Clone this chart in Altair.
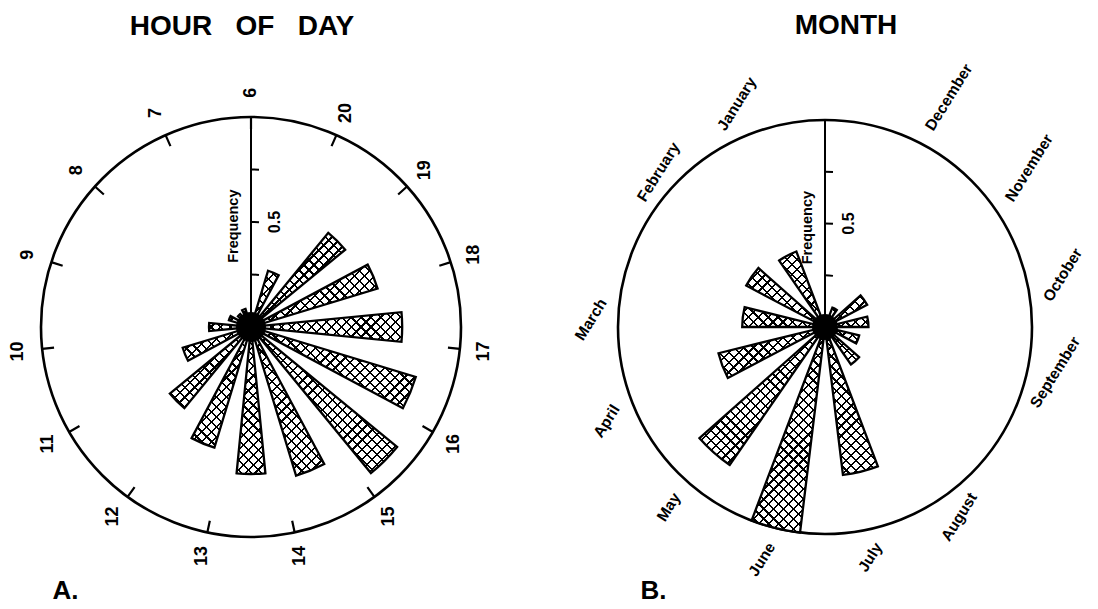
import math
import altair as alt
import pandas as pd

# ------------------------------------------------------------------ data
hour_labels = [6, 7, 8, 9, 10, 11, 12, 13, 14, 15, 16, 17, 18, 19, 20]
hour_sectors = list(range(16))          # 16 sectors, clockwise from the top
hour_freq = [0.06, 0.28, 0.58, 0.63, 0.72, 0.82, 0.90, 0.74,
             0.70, 0.60, 0.50, 0.34, 0.20, 0.11, 0.08, 0.09]

month_labels = ["January", "February", "March", "April", "May", "June",
                "July", "August", "September", "October", "November", "December"]
month_index = list(range(1, 13))
month_freq = [0.39, 0.43, 0.40, 0.53, 0.81, 1.00, 0.72, 0.22, 0.17, 0.21, 0.23, 0.10]

freq_ticks = [0.25, 0.5, 0.75]
freq_tick_text = ["", "0.5", ""]
axis_title = ["Frequency"]
panel_titles = ["HOUR\u00a0\u00a0\u00a0OF\u00a0\u00a0\u00a0DAY", "MONTH"]
panel_letters = ["A.", "B."]

# ------------------------------------------------------------------ style / layout
FONT = "Liberation Sans"
SIZE = 476
R_A = 210
R_B = 207
N_HOUR_SLOTS = len(hour_labels)
N_SECTORS = len(hour_sectors)
N_MONTH_SLOTS = 13
HATCH_GAP = 7.0
HATCH_LW = 1.6
TICK_PX = 8.0

TH = alt.Scale(domain=[0, 360], range=[0, 2 * math.pi])


def RS(R):
    return alt.Scale(type="linear", domain=[0, 1], range=[0, R], zero=True, nice=False)


def arc_enc(R, t0="t0", t1="t1", r="r1", r2="r0"):
    return dict(
        theta=alt.Theta(f"{t0}:Q", scale=TH, stack=False),
        theta2=alt.Theta2(f"{t1}:Q"),
        radius=alt.Radius(f"{r}:Q", scale=RS(R)),
        radius2=alt.Radius2(f"{r2}:Q"),
    )


def wedge_bbox(c, h, r):
    t0, t1 = c - h, c + h
    pts = [(0.0, 0.0)]
    for a in (t0, t1):
        pts.append((r * math.sin(math.radians(a)), -r * math.cos(math.radians(a))))
    a = math.ceil(t0 / 90.0) * 90.0
    while a <= t1:
        pts.append((r * math.sin(math.radians(a)), -r * math.cos(math.radians(a))))
        a += 90.0
    xs = [p[0] for p in pts]
    ys = [p[1] for p in pts]
    return max(max(xs) - min(xs), 1.0), max(max(ys) - min(ys), 1.0)


def hatch_grad(w, h, direction, bg):
    k = (w + h) / (w * w + h * h)
    p = HATCH_GAP * math.sqrt(2) / (w + h)
    q = HATCH_LW * math.sqrt(2) / (w + h)
    stops = [(0.0, bg)]
    s = p / 2
    while s < 1:
        a = round(s, 5)
        b = round(min(s + q, 1.0), 5)
        stops += [(a, bg), (a, "black"), (b, "black"), (b, bg)]
        s += p
    stops.append((1.0, bg))
    gs = [alt.GradientStop(offset=o, color=c) for o, c in stops]
    if direction == "A":
        return alt.LinearGradient(gradient="linear", stops=gs, x1=0, y1=0,
                                  x2=round(k * w, 5), y2=round(k * h, 5))
    return alt.LinearGradient(gradient="linear", stops=gs, x1=0, y1=1,
                              x2=round(k * w, 5), y2=round(1 - k * h, 5))


def hatched_wedges(base, R, centers, half, values):
    layers = []
    enc = arc_enc(R, r="v", r2="r0")
    for i, (c, v) in enumerate(zip(centers, values)):
        w, h = wedge_bbox(c, half, v * R)
        sel = base.transform_filter(alt.datum.i == i)
        layers.append(sel.mark_arc(fill=hatch_grad(w, h, "A", "white")).encode(**enc))
        layers.append(sel.mark_arc(fill=hatch_grad(w, h, "B", "rgba(0,0,0,0)"),
                                   stroke="black", strokeWidth=2.3).encode(**enc))
    return layers


def common_layers(R, with_circle_ticks):
    layers = []
    one = alt.Chart(pd.DataFrame({"title": axis_title}))
    # outer circle
    layers.append(
        one.transform_calculate(t0="0", t1="360", r1="1", r0="0")
        .mark_arc(fill="white", fillOpacity=0, stroke="black", strokeWidth=2.6)
        .encode(**arc_enc(R))
    )
    if with_circle_ticks:
        hb = alt.Chart(pd.DataFrame({"hour": hour_labels})).transform_calculate(
            ang=f"(({hour_labels[0]} - datum.hour) * {360 / N_HOUR_SLOTS} + 720) % 360",
            r1="1", r0="0.943")
        layers.append(hb.mark_arc(fill="black", stroke="black", strokeWidth=2.2)
                      .encode(**arc_enc(R, t0="ang", t1="ang")))
    # frequency axis line
    layers.append(
        one.transform_calculate(t0="0", t1="0", r1="1", r0="0")
        .mark_arc(fill="black", stroke="black", strokeWidth=2)
        .encode(**arc_enc(R))
    )
    # frequency axis ticks
    fb = alt.Chart(pd.DataFrame({"f": freq_ticks, "lab": freq_tick_text})).transform_calculate(
        t0="0", t1=f"{TICK_PX} / (datum.f * {R}) * 180 / PI")
    layers.append(fb.mark_arc(fill="black", stroke="black", strokeWidth=2)
                  .encode(**arc_enc(R, r="f", r2="f")))
    return layers, one, fb


def text_layers(R, one, fb, hub):
    layers = []
    layers.append(
        fb.transform_filter("datum.lab != ''")
        .mark_text(angle=270, font=FONT, fontSize=16, fontWeight="bold", dy=24,
                   align="center", baseline="middle", color="black")
        .encode(theta=alt.Theta("t0:Q", scale=TH, stack=False),
                radius=alt.Radius("f:Q", scale=RS(R)), text="lab:N")
    )
    layers.append(
        one.transform_calculate(t0="0", rl="0.48")
        .mark_text(angle=270, font=FONT, fontSize=14.5, fontWeight="bold", dy=-17,
                   align="center", baseline="middle", color="black")
        .encode(theta=alt.Theta("t0:Q", scale=TH, stack=False),
                radius=alt.Radius("rl:Q", scale=RS(R)), text="title:N")
    )
    # black hub
    layers.append(
        one.transform_calculate(t0="0", t1="360")
        .mark_arc(fill="black")
        .encode(theta=alt.Theta("t0:Q", scale=TH, stack=False), theta2="t1:Q",
                radius=alt.value(hub))
    )
    return layers


def letter_layer(letter, tx):
    return alt.Chart(pd.DataFrame({"p": [letter]})).mark_point(opacity=0).encode(
        x=alt.X("p:N", title=letter, axis=alt.Axis(
            labels=False, ticks=False, domain=False, grid=False,
            titleFont=FONT, titleFontSize=26, titleFontWeight="bold", titleColor="black",
            titleAlign="left", titleBaseline="top", titleX=tx, titleY=12)))


def title(text, dx, offset):
    return alt.TitleParams(text=text, font=FONT, fontSize=28, fontWeight="bold",
                           color="black", anchor="middle", offset=offset, dx=dx,
                           frame="group")


# ------------------------------------------------------------------ panel A
la, oneA, fbA = common_layers(R_A, True)
hour_df = pd.DataFrame({"i": hour_sectors, "v": hour_freq})
baseA = alt.Chart(hour_df).transform_calculate(
    c=f"datum.i * {360 / N_SECTORS}",
    t0=f"datum.c - {360 / N_SECTORS / 4}",
    t1=f"datum.c + {360 / N_SECTORS / 4}",
    r0="0")
centersA = [k * 360 / N_SECTORS for k in hour_sectors]
la += hatched_wedges(baseA, R_A, centersA, 360 / N_SECTORS / 4, hour_freq)
la += text_layers(R_A, oneA, fbA, 15)
hl = alt.Chart(pd.DataFrame({"hour": hour_labels})).transform_calculate(
    ang=f"(({hour_labels[0]} - datum.hour) * {360 / N_HOUR_SLOTS} + 720) % 360",
    rl="1.115")
la.append(hl.mark_text(angle=270, font=FONT, fontSize=18, fontWeight="bold",
                       align="center", baseline="middle", color="black")
          .encode(theta=alt.Theta("ang:Q", scale=TH, stack=False),
                  radius=alt.Radius("rl:Q", scale=RS(R_A)), text="hour:N"))
la.append(letter_layer(panel_letters[0], 39))
left = alt.layer(*la).properties(width=SIZE, height=SIZE,
                                 title=title(panel_titles[0], -9, 47))

# ------------------------------------------------------------------ panel B
lb, oneB, fbB = common_layers(R_B, False)
month_df = pd.DataFrame({"i": list(range(len(month_index))), "m": month_index,
                         "v": month_freq, "name": month_labels})
baseB = alt.Chart(month_df).transform_calculate(
    c=f"360 - datum.m * {360 / N_MONTH_SLOTS}",
    t0=f"datum.c - {360 / N_MONTH_SLOTS / 4}",
    t1=f"datum.c + {360 / N_MONTH_SLOTS / 4}",
    r0="0")
centersB = [360 - m * 360 / N_MONTH_SLOTS for m in month_index]
lb += hatched_wedges(baseB, R_B, centersB, 360 / N_MONTH_SLOTS / 4, month_freq)
lb += text_layers(R_B, oneB, fbB, 13)
ml = alt.Chart(month_df).transform_calculate(
    ang=f"360 - datum.m * {360 / N_MONTH_SLOTS}", rl="1.08").transform_calculate(
    out="cos((datum.ang - 32) * PI / 180) > 0")
for cond, al in (("datum.out", "left"), ("!datum.out", "right")):
    lb.append(ml.transform_filter(cond)
              .mark_text(angle=302, font=FONT, fontSize=15.5, fontWeight="bold",
                         align=al, baseline="middle", color="black")
              .encode(theta=alt.Theta("ang:Q", scale=TH, stack=False),
                      radius=alt.Radius("rl:Q", scale=RS(R_B)), text="name:N"))
lb.append(letter_layer(panel_letters[1], 53))
right = alt.layer(*lb).properties(width=SIZE, height=SIZE,
                                  title=title(panel_titles[1], 21, 22))

chart = (
    alt.hconcat(left, right, spacing=98, bounds="flush")
    .properties(padding={"left": 1, "top": 3, "right": 0, "bottom": 5}, background="white")
    .configure_view(strokeWidth=0)
)
chart.save("out.html", embed_options={"renderer": "svg", "actions": False})
